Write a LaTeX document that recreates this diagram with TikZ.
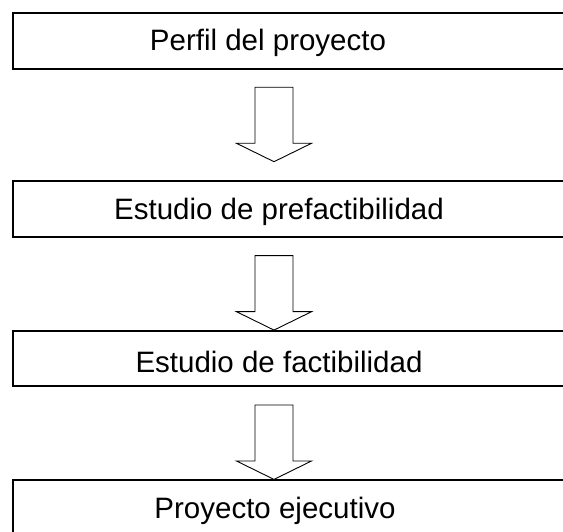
\documentclass[tikz,border=0pt]{standalone}
\usepackage{fontspec}
\setmainfont{Liberation Sans}
\begin{document}
\begin{tikzpicture}[x=1pt,y=1pt,
  stagebox/.style={draw=black, line width=1.8pt, minimum width=580pt, inner sep=0pt},
  stagetext/.style={font=\fontsize{29.5}{33}\selectfont, inner sep=0pt, anchor=center},
  arrowline/.style={draw=black, line width=0.9pt, fill=white, line join=miter},
  downarrow/.pic={\draw[arrowline] (-19,0) -- (19,0) -- (19,-56) -- (37.5,-56) -- (0,-74.4) -- (-37.5,-56) -- (-19,-56) -- cycle;}
]
\useasboundingbox (0,0) rectangle (563,531);
\clip (0,0) rectangle (563,531);
\fill[white] (0,0) rectangle (563,531);
% boxes
\node[stagebox, minimum height=56.3pt] (b1) at (302.7,490.15) {};
\node[stagebox, minimum height=56pt] (b2) at (302.7,322.3) {};
\node[stagebox, minimum height=55.3pt] (b3) at (302.7,172.65) {};
\node[stagebox, minimum height=56pt] (b4) at (302.7,23) {};
% texts
\node[stagetext] (t1) at (268,488.5) {Perfil del proyecto};
\node[stagetext] (t2) at (279,319.5) {Estudio de prefactibilidad};
\node[stagetext] (t3) at (279,169.5) {Estudio de factibilidad};
\node[stagetext] (t4) at (275,20.5) {Proyecto ejecutivo};
% arrows
\coordinate (a1) at (274,443.7);
\coordinate (a2) at (274,275.3);
\coordinate (a3) at (274,126);
\pic at (a1) {downarrow};
\pic at (a2) {downarrow};
\pic at (a3) {downarrow};
\end{tikzpicture}
\end{document}
